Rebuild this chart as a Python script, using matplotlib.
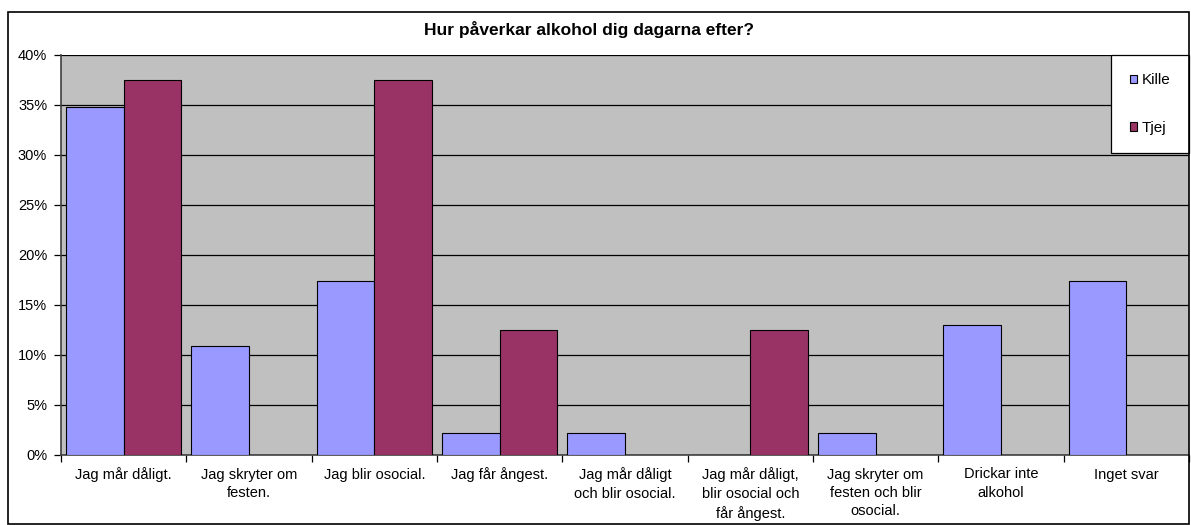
import numpy as np
import matplotlib.pyplot as plt
from matplotlib.patches import Rectangle
from matplotlib.ticker import FuncFormatter

categories = [
    "Jag mår dåligt.",
    "Jag skryter om\nfesten.",
    "Jag blir osocial.",
    "Jag får ångest.",
    "Jag mår dåligt\noch blir osocial.",
    "Jag mår dåligt,\nblir osocial och\nfår ångest.",
    "Jag skryter om\nfesten och blir\nosocial.",
    "Drickar inte\nalkohol",
    "Inget svar",
]
kille = [34.8, 10.9, 17.4, 2.2, 2.2, 0.0, 2.2, 13.0, 17.4]
tjej = [37.5, 0.0, 37.5, 12.5, 0.0, 12.5, 0.0, 0.0, 0.0]

plt.rcParams['font.family'] = ['Liberation Sans', 'DejaVu Sans']

fig = plt.figure(figsize=(11.91, 5.25), dpi=100)
fig.patches.append(Rectangle((8 / 1191, 1 / 525), 1181 / 1191, 512 / 525,
                             transform=fig.transFigure, fill=False,
                             edgecolor='black', linewidth=1.2))

ax = fig.add_axes([61 / 1191, 70 / 525, 1128 / 1191, 400 / 525])
ax.set_facecolor('#C0C0C0')

x = np.arange(len(categories))
w = 0.46
ax.bar(x - w / 2, kille, w, color='#9999FF', edgecolor='black', linewidth=0.8,
       label='Kille', zorder=3)
b2 = ax.bar(x + w / 2, tjej, w, color='#993366', edgecolor='black', linewidth=0.8,
            label='Tjej', zorder=3)
# zero-height bars should not draw a line
for r, v in zip(b2, tjej):
    if v == 0:
        r.set_visible(False)

ax.set_xlim(-0.5, len(categories) - 0.5)
ax.set_ylim(0, 40)
ax.set_yticks(np.arange(0, 41, 5))
ax.yaxis.set_major_formatter(FuncFormatter(lambda v, p: f"{v:.0f}%"))
ax.yaxis.grid(True, color='black', linewidth=0.9, zorder=1)
ax.set_axisbelow(True)

ax.set_xticks(np.arange(-0.5, len(categories), 1.0))
ax.set_xticklabels([])
ax.set_xticks(x, minor=True)
ax.set_xticklabels(categories, minor=True, fontsize=10.5, linespacing=1.4,
                   va='top')
ax.tick_params(axis='x', which='minor', length=0, pad=9)
ax.tick_params(axis='x', which='major', length=5, width=0.9, direction='out')
ax.tick_params(axis='y', length=5, width=0.9, labelsize=10.5, pad=5)

for s in ['top', 'right']:
    ax.spines[s].set_visible(False)
ax.spines['left'].set_color('#404040')
ax.spines['bottom'].set_color('#404040')
ax.spines['left'].set_linewidth(1.2)
ax.spines['bottom'].set_linewidth(1.2)

fig.text(589 / 1191, 1 - 29 / 525, "Hur påverkar alkohol dig dagarna efter?",
         ha='center', va='center', fontsize=12.5, fontweight='bold')

leg = ax.legend(loc='upper right', bbox_to_anchor=(1.0, 1.0), fontsize=11,
                frameon=True, fancybox=False, edgecolor='black',
                handlelength=0.5, handleheight=0.5, handletextpad=0.3,
                labelspacing=2.2, borderpad=1.2, borderaxespad=0)
leg.get_frame().set_linewidth(0.9)
leg.get_frame().set_facecolor('white')
leg.get_frame().set_alpha(1)

fig.savefig("out.png", dpi=100)
